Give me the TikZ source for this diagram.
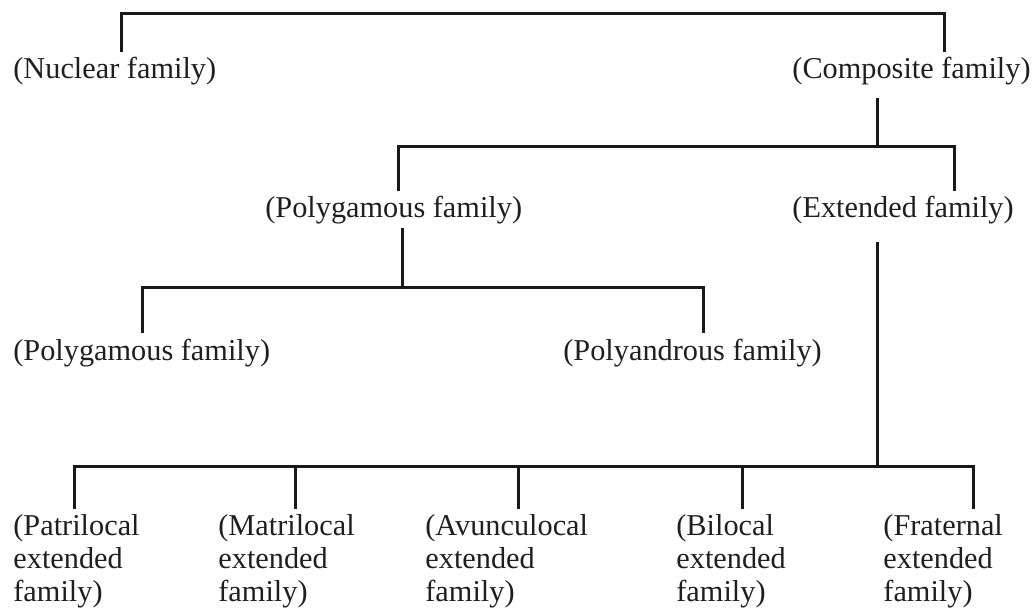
\documentclass[tikz,border=0pt]{standalone}
\usepackage{fontspec}
\setmainfont{Liberation Serif}
\begin{document}
\begin{tikzpicture}[x=0.5pt, y=-0.5pt,
    famtext/.style = {anchor=base west, inner xsep=0pt, inner ysep=2.5pt, align=left,
        text=black!88, font=\fontsize{15.15}{16.5}\selectfont},
    famline/.style = {draw=black!90, line width=1.5pt}]
    \useasboundingbox (0,0) rectangle (1033,609);

    % text of the chart
    \node[famtext] (nuclear)   at (13,79)   {(Nuclear family)};
    \node[famtext] (composite) at (792,79)  {(Composite family)};
    \node[famtext] (polyA)     at (265,218) {(Polygamous family)};
    \node[famtext] (extended)  at (792,218) {(Extended family)};
    \node[famtext] (polyB)     at (13,360)  {(Polygamous family)};
    \node[famtext] (polyandr)  at (563,360) {(Polyandrous family)};
    % three lines: base is the last line
    \node[famtext] (patri)     at (13,601)  {(Patrilocal\\extended\\family)};
    \node[famtext] (matri)     at (218,601) {(Matrilocal\\extended\\family)};
    \node[famtext] (avunc)     at (425,601) {(Avunculocal\\extended\\family)};
    \node[famtext] (biloc)     at (676,601) {(Bilocal\\extended\\family)};
    \node[famtext] (frat)      at (883,601) {(Fraternal\\extended\\family)};

    % top level
    \coordinate (top-l) at (121,14);
    \coordinate (top-r) at (944,14);
    \draw[famline] (nuclear.north -| top-l) -- (top-l) -- (top-r) -- (composite.north -| top-r);

    % composite family
    \coordinate (comp-out) at (877,98);
    \coordinate (mid-l) at (398,147);
    \coordinate (mid-r) at (954,147);
    \draw[famline] (comp-out) -- (comp-out |- mid-l);
    \draw[famline] (polyA.north -| mid-l) -- (mid-l) -- (mid-r) -- (extended.north -| mid-r);

    % polygamous family
    \coordinate (poly-out) at (402,228);
    \coordinate (low-l) at (142,288);
    \coordinate (low-r) at (703,288);
    \draw[famline] (poly-out) -- (poly-out |- low-l);
    \draw[famline] (polyB.north -| low-l) -- (low-l) -- (low-r) -- (polyandr.north -| low-r);

    % extended family
    \coordinate (ext-out) at (877,242);
    \coordinate (bot-l) at (74,466);
    \coordinate (bot-r) at (973,466);
    \draw[famline] (ext-out) -- (ext-out |- bot-l);
    \draw[famline] (patri.north -| bot-l) -- (bot-l) -- (bot-r) -- (frat.north -| bot-r);
    \foreach \n/\x in {matri/295, avunc/518, biloc/742}
        \draw[famline] (\x,466) -- (\n.north -| \x,0);
\end{tikzpicture}
\end{document}
